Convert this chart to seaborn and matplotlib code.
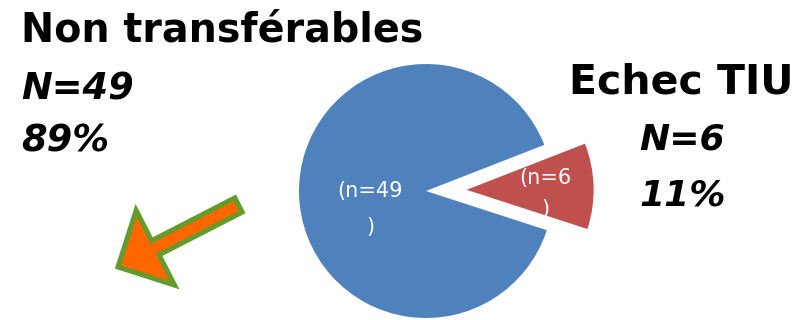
import numpy as np
import matplotlib
matplotlib.use("Agg")
import matplotlib.pyplot as plt
from matplotlib.patches import FancyArrow
import seaborn as sns

# ---- data ----
categories = ["Non transférables", "Echec TIU"]
counts = [49, 6]
pie_labels = ["(n=49\n)", "(n=6\n)"]
colors = ["#4F81BD", "#C0504D"]

sns.set_theme(style="white")
plt.rcParams["font.family"] = ["DejaVu Sans"]

W, H = 801, 320
fig = plt.figure(figsize=(W / 100, H / 100), dpi=100)
ax = fig.add_axes([0, 0, 1, 1])

def py(y):  # pixel-from-top to data y
    return H - y

cx, cy, R = 426, py(191), 127
wedges, _ = ax.pie(counts, colors=colors, startangle=21.3, counterclock=True,
                   explode=[0, 0.32 * R], center=(cx, cy), radius=R,
                   wedgeprops=dict(linewidth=0))
ax.set_xlim(0, W)
ax.set_ylim(0, H)
ax.set_aspect("equal")
ax.axis("off")

# labels inside slices
dists = [0.44, 0.62]
dy_off = [-16, -6]
lsp = [2.0, 1.68]
for w, lab, d, o, ls in zip(wedges, pie_labels, dists, dy_off, lsp):
    th = np.deg2rad((w.theta1 + w.theta2) / 2)
    x0, y0 = w.center
    ax.text(x0 + d * R * np.cos(th), y0 + d * R * np.sin(th) + o, lab,
            ha="center", va="center", color="white", fontsize=15,
            linespacing=ls, multialignment="center")

total = sum(counts)
pcts = [round(c / total * 100) for c in counts]

# left annotation
ax.text(21, py(42), categories[0], fontsize=28.5, fontweight="bold",
        ha="left", va="baseline", color="black")
ax.text(21, py(100), f"N={counts[0]}", fontsize=26.5, fontweight="bold",
        fontstyle="italic", ha="left", va="baseline", color="black")
ax.text(21, py(152), f"{pcts[0]}%", fontsize=26.5, fontweight="bold",
        fontstyle="italic", ha="left", va="baseline", color="black")

# right annotation
ax.text(681, py(93), categories[1], fontsize=29.5, fontweight="bold",
        ha="center", va="baseline", color="black")
ax.text(682, py(150), f"N={counts[1]}", fontsize=26, fontweight="bold",
        fontstyle="italic", ha="center", va="baseline", color="black")
ax.text(683, py(205), f"{pcts[1]}%", fontsize=26, fontweight="bold",
        fontstyle="italic", ha="center", va="baseline", color="black")

# decorative arrow
tail = np.array([238.5, py(205)])
tip = np.array([118, py(267)])
d = tip - tail
arrow = FancyArrow(tail[0], tail[1], d[0], d[1], width=16, head_width=84,
                   head_length=42, length_includes_head=True,
                   facecolor="#FF6600", edgecolor="#639C2B", linewidth=3.6,
                   joinstyle="miter")
ax.add_patch(arrow)

fig.savefig("out.png", dpi=100)
